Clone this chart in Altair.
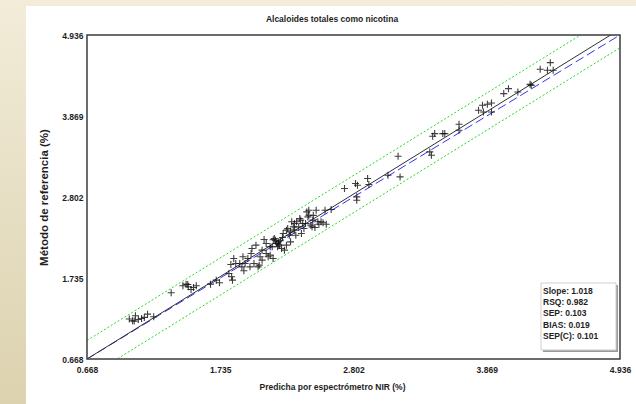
import altair as alt
import pandas as pd

# ---------------- data ----------------
nir_pred = [
    1.007, 1.033, 1.046, 1.056, 1.079, 1.105, 1.127, 1.153, 1.202,
    1.342,
    1.436, 1.462, 1.475, 1.479, 1.501, 1.521, 1.543,
    1.657, 1.703, 1.729,
    1.804, 1.826, 1.833, 1.843, 1.820, 1.891, 1.908, 1.917, 1.924, 1.934,
    1.973, 1.982, 2.005, 2.021, 2.038, 2.047, 2.054, 2.070, 2.086, 2.103,
    2.119, 2.135, 2.151, 2.158, 2.177, 2.184, 2.194, 2.210, 2.216, 2.226,
    2.239, 2.249, 2.265, 2.275, 2.288, 2.298, 2.307, 2.320, 2.330, 2.340,
    2.346, 2.363, 2.372, 2.385, 2.395, 2.405, 2.418, 2.428, 2.437, 2.444,
    2.460, 2.470, 2.476, 2.493, 2.503, 2.516, 2.525, 2.542, 2.558, 2.574,
    2.584, 2.623,
    2.103, 2.135, 2.168, 2.200, 2.233, 2.265, 2.298, 2.330, 2.379, 1.989,
    1.956, 1.859, 2.070, 2.444, 2.200, 2.160, 2.480,
    2.730, 2.818, 2.834, 2.828, 2.828, 2.915, 2.925, 3.078, 3.159, 3.175,
    3.413, 3.426, 3.436, 3.452, 3.517, 3.533, 3.647, 3.647, 3.803, 3.835,
    3.842, 3.874, 3.907, 3.907, 4.005, 4.043, 4.118, 4.216, 4.225, 4.297,
    4.355, 4.378, 4.401,
]
ref_val = [
    1.194, 1.172, 1.167, 1.238, 1.189, 1.202, 1.216, 1.259, 1.224,
    1.540,
    1.632, 1.654, 1.650, 1.619, 1.584, 1.610, 1.632,
    1.654, 1.707, 1.672,
    1.795, 1.751, 1.707, 1.992, 1.913, 1.926, 1.882, 2.014, 1.830, 1.926,
    1.882, 2.058, 1.926, 2.168, 1.882, 1.904, 2.014, 2.102, 2.242, 2.058,
    2.014, 2.036, 2.146, 1.992, 2.233, 2.190, 2.146, 2.168, 2.225, 2.124,
    2.321, 2.102, 2.168, 2.387, 2.299, 2.211, 2.475, 2.409, 2.365, 2.299,
    2.475, 2.409, 2.519, 2.321, 2.453, 2.387, 2.453, 2.606, 2.540, 2.628,
    2.431, 2.409, 2.497, 2.400, 2.628, 2.475, 2.444, 2.475, 2.462, 2.628,
    2.444, 2.637,
    2.190, 2.146, 2.255, 2.211, 2.268, 2.365, 2.343, 2.453, 2.497, 2.124,
    1.992, 1.926, 1.970, 2.562, 2.180, 2.240, 2.560,
    2.913, 2.979, 2.957, 2.804, 2.760, 3.045, 2.966, 3.089, 3.339, 3.067,
    3.396, 3.352, 3.602, 3.637, 3.637, 3.637, 3.760, 3.681, 3.944, 4.010,
    3.922, 4.023, 4.041, 3.922, 4.164, 4.229, 4.186, 4.286, 4.273, 4.484,
    4.471, 4.572, 4.471,
]
ticks = [0.668, 1.735, 2.802, 3.869, 4.936]
title_text = "Alcaloides totales como nicotina"
x_title = "Predicha por espectrómetro NIR (%)"
y_title = "Método de referencia (%)"
stats_lines = ["Slope: 1.018", "RSQ: 0.982", "SEP: 0.103", "BIAS: 0.019", "SEP(C): 0.101"]
reg_slope = 1.018
reg_intercept = -0.012
band = 0.245

# ---------------- layout ----------------
W, H = 533, 324
FONT = "Liberation Sans, Arial, sans-serif"
TXT = "#1e1e1e"
FS = 8.5

xs = alt.Scale(domain=[ticks[0], ticks[-1]], nice=False, zero=False)
ys = alt.Scale(domain=[ticks[0], ticks[-1]], nice=False, zero=False)

pts = pd.DataFrame({"x": nir_pred, "y": ref_val})

line_defs = [
    ("upper", reg_slope, reg_intercept + band),
    ("lower", reg_slope, reg_intercept - band),
    ("ident", 1.0, 0.0),
    ("reg", reg_slope, reg_intercept),
]
rows = []
for name, s, b in line_defs:
    for xv in (ticks[0], ticks[-1]):
        rows.append({"name": name, "x": xv, "y": s * xv + b})
lines = pd.DataFrame(rows)

one = pd.DataFrame({"a": [0]})

grad = alt.Gradient(
    gradient="linear",
    stops=[alt.GradientStop(color="#F2ECD9", offset=0),
           alt.GradientStop(color="#DCD2AF", offset=1)],
    x1=0, x2=0, y1=0, y2=1,
)

bg = alt.Chart(one).mark_rect(color=grad).encode(
    x=alt.value(-87), x2=alt.value(549), y=alt.value(-35), y2=alt.value(369)
)
white = alt.Chart(one).mark_rect(color="white").encode(
    x=alt.value(-61), x2=alt.value(549), y=alt.value(-29), y2=alt.value(369)
)

xenc = alt.X("x:Q", scale=xs, axis=alt.Axis(
    values=ticks, format=".3f", title=x_title, titleX=245, titleY=27,
    titleBaseline="middle", titleAlign="center", titleFont=FONT,
    titleFontSize=FS, titleFontWeight="bold", titleColor=TXT,
    labelFont=FONT, labelFontSize=FS, labelFontWeight="bold",
    labelColor=TXT, labelPadding=6, labelFlush=False, labelOverlap=False,
    domain=False, ticks=False, grid=False, zindex=2))
yenc = alt.Y("y:Q", scale=ys, axis=alt.Axis(
    values=ticks, format=".3f", title=y_title, titleX=-43, titleY=162,
    titleAngle=270, titleBaseline="middle", titleAlign="center",
    titleFont=FONT, titleFontSize=11.5, titleFontWeight="bold",
    titleColor=TXT, labelFont=FONT, labelFontSize=FS,
    labelFontWeight="bold", labelColor=TXT, labelPadding=4,
    labelBaseline="middle", labelOverlap=False, labelFlush=False,
    domain=False, ticks=False, grid=False, zindex=2))

base = alt.Chart(lines)
green = base.transform_filter(
    alt.FieldOneOfPredicate(field="name", oneOf=["upper", "lower"])
).mark_line(color="#22dd22", strokeWidth=1, strokeDash=[2, 2], clip=True).encode(
    x=xenc, y=yenc, detail="name:N")
blue = base.transform_filter(alt.datum.name == "ident").mark_line(
    color="#3030ff", strokeWidth=1, strokeDash=[9, 4], clip=True
).encode(x=xenc, y=yenc)
black = base.transform_filter(alt.datum.name == "reg").mark_line(
    color="#303030", strokeWidth=1, clip=True
).encode(x=xenc, y=yenc)

points = alt.Chart(pts).mark_point(
    shape="M-1,0L1,0M0,-1L0,1", size=49, filled=False, color="#111111",
    strokeWidth=1.1, opacity=0.8, clip=True
).encode(x=xenc, y=yenc)

frame = alt.Chart(one).mark_rect(filled=False, stroke="#3c3c3c", strokeWidth=1.5).encode(
    x=alt.value(0), x2=alt.value(W), y=alt.value(0), y2=alt.value(H))

shadow = alt.Chart(one).mark_rect(color="#9a9a9a").encode(
    x=alt.value(456), x2=alt.value(531), y=alt.value(250), y2=alt.value(317))
box = alt.Chart(one).mark_rect(fill="white", stroke="#cfcfcf", strokeWidth=1).encode(
    x=alt.value(454), x2=alt.value(529), y=alt.value(248), y2=alt.value(315))
stats = alt.Chart(one).mark_text(
    align="left", baseline="top", font=FONT, fontSize=FS, fontWeight="bold",
    lineHeight=11.2, color=TXT
).encode(x=alt.value(456), y=alt.value(252), text=alt.value(stats_lines))

title = alt.Chart(one).mark_text(
    align="center", baseline="middle", font=FONT, fontSize=FS,
    fontWeight="bold", color=TXT
).encode(x=alt.value(245), y=alt.value(-16), text=alt.value(title_text))

chart = alt.layer(
    bg, white, green, blue, black, points, frame, shadow, box, stats, title
).resolve_scale(x="shared", y="shared").properties(
    width=W, height=H,
    autosize=alt.AutoSizeParams(type="none"),
    padding={"left": 87, "top": 35, "right": 16, "bottom": 45},
).configure_view(stroke=None)

chart.save("out.html", embed_options={"renderer": "svg", "actions": False})
